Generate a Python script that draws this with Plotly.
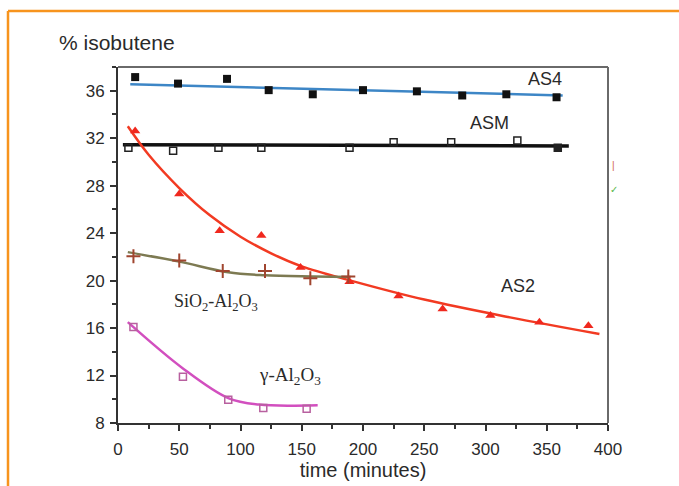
import plotly.graph_objects as go

# ---- data ----
as4_t = [14, 49, 89, 123, 159, 200, 244, 281, 317, 358]
as4_y = [37.15, 36.6, 37.0, 36.05, 35.7, 36.05, 35.95, 35.6, 35.7, 35.45]
as4_fit_t = [10, 363]
as4_fit_y = [36.55, 35.6]

asm_t = [8.5, 45, 82, 117, 189, 225, 272, 326, 359]
asm_y = [31.2, 30.95, 31.2, 31.2, 31.2, 31.65, 31.65, 31.8, 31.2]
asm_fit_t = [4, 368]
asm_fit_y = [31.45, 31.35]

as2_t = [14, 50, 83, 117, 149, 189, 229, 265, 304, 344, 384]
as2_y = [32.6, 27.3, 24.2, 23.8, 21.1, 19.9, 18.7, 17.6, 17.05, 16.5, 16.2]
as2_fit_t = [8, 25, 50, 75, 100, 125, 150, 190, 250, 320, 393]
as2_fit_y = [33.0, 30.6, 27.8, 25.5, 23.7, 22.3, 21.2, 20.0, 18.4, 16.9, 15.5]

sio2_t = [12.6, 50, 85.5, 120, 157, 188]
sio2_y = [22.05, 21.7, 20.8, 20.8, 20.2, 20.35]
sio2_fit_t = [8, 50, 90, 120, 160, 190]
sio2_fit_y = [22.4, 21.6, 20.7, 20.45, 20.35, 20.3]

gam_t = [12.6, 53, 90, 118.6, 154]
gam_y = [16.1, 11.9, 9.95, 9.27, 9.2]
gam_fit_t = [8, 53, 90, 115, 163]
gam_fit_y = [16.5, 12.6, 10.1, 9.55, 9.5]

x_ticks = [0, 50, 100, 150, 200, 250, 300, 350, 400]
y_ticks = [8, 12, 16, 20, 24, 28, 32, 36]

FONT = "Liberation Sans, Arial, sans-serif"
SERIF = "Liberation Serif, Times New Roman, serif"
TXT = "#2a2a2a"
AXC = "#333333"

fig = go.Figure()

# fitted curves
fig.add_trace(go.Scatter(x=as4_fit_t, y=as4_fit_y, mode="lines",
                         line=dict(color="#3d86c6", width=2.5), hoverinfo="skip"))
fig.add_trace(go.Scatter(x=asm_fit_t, y=asm_fit_y, mode="lines",
                         line=dict(color="#111111", width=3.5), hoverinfo="skip"))
fig.add_trace(go.Scatter(x=as2_fit_t, y=as2_fit_y, mode="lines",
                         line=dict(color="#f23a22", width=2.5, shape="spline", smoothing=1.0),
                         hoverinfo="skip"))
fig.add_trace(go.Scatter(x=sio2_fit_t, y=sio2_fit_y, mode="lines",
                         line=dict(color="#7d7a52", width=2.5, shape="spline", smoothing=1.0),
                         hoverinfo="skip"))
fig.add_trace(go.Scatter(x=gam_fit_t, y=gam_fit_y, mode="lines",
                         line=dict(color="#d24fbf", width=2.5, shape="spline", smoothing=1.0),
                         hoverinfo="skip"))

# markers
fig.add_trace(go.Scatter(x=as4_t, y=as4_y, mode="markers",
                         marker=dict(symbol="square", size=8, color="#111111")))
asm_sym = ["square-open"] * (len(asm_t) - 1) + ["square"]
fig.add_trace(go.Scatter(x=asm_t, y=asm_y, mode="markers",
                         marker=dict(symbol=asm_sym, size=7, color="#222222",
                                     line=dict(width=1.5, color="#222222"))))
fig.add_trace(go.Scatter(x=as2_t, y=as2_y, mode="markers",
                         marker=dict(symbol="triangle-up", size=9, color="#f0281e")))
fig.add_trace(go.Scatter(x=sio2_t, y=sio2_y, mode="markers",
                         marker=dict(symbol="cross-thin", size=10, color="#a0452f",
                                     line=dict(width=2, color="#a0452f"))))
fig.add_trace(go.Scatter(x=gam_t, y=gam_y, mode="markers",
                         marker=dict(symbol="square-open", size=7, color="#b8609f",
                                     line=dict(width=1.5, color="#b8609f"))))

axis_common = dict(showline=True, linecolor=AXC, linewidth=2, mirror=False,
                   ticks="outside", ticklen=6, tickwidth=2, tickcolor=AXC,
                   showgrid=False, zeroline=False,
                   tickfont=dict(family=FONT, size=17, color=TXT))

fig.update_xaxes(range=[0, 400], tickmode="array", tickvals=x_ticks,
                 ticktext=[str(v) for v in x_ticks], ticklabelstandoff=4,
                 minor=dict(ticks="outside", ticklen=4, tickwidth=2, dtick=25,
                            tick0=0, tickcolor=AXC, showgrid=False),
                 title=dict(text="time (minutes)", font=dict(family=FONT, size=20, color=TXT),
                            standoff=2),
                 **axis_common)
fig.update_yaxes(range=[8, 38.0], tickmode="array", tickvals=y_ticks,
                 ticktext=[str(v) for v in y_ticks], ticklabelstandoff=2,
                 minor=dict(ticks="outside", ticklen=4, tickwidth=2, dtick=2,
                            tick0=0, tickcolor=AXC, showgrid=False),
                 **axis_common)

ann = [
    dict(text="% isobutene", x=117, y=42, font=dict(family=FONT, size=21, color=TXT)),
    dict(text="AS4", x=545, y=79, font=dict(family=FONT, size=18, color=TXT)),
    dict(text="ASM", x=489, y=123, font=dict(family=FONT, size=18, color=TXT)),
    dict(text="AS2", x=518, y=286, font=dict(family=FONT, size=18, color=TXT)),
    dict(text="SiO<sub>2</sub>-Al<sub>2</sub>O<sub>3</sub>", x=216, y=302,
         font=dict(family=SERIF, size=18, color=TXT)),
    dict(text="\u03b3-Al<sub>2</sub>O<sub>3</sub>", x=290, y=376,
         font=dict(family=SERIF, size=19, color=TXT)),
    dict(text="\u2713", x=614, y=189, font=dict(family=FONT, size=10, color="#59b84a")),
    dict(text="|", x=613, y=165, font=dict(family=FONT, size=10, color="#d06040")),
]

L, R, T, B = 118, 608, 67, 423
W, H = 679, 486


def px_to_paper(x, y):
    return (x - L) / (R - L), (B - y) / (B - T)


annotations = []
for a in ann:
    px, py = px_to_paper(a["x"], a["y"])
    annotations.append(dict(text=a["text"], x=px, y=py, xref="paper", yref="paper",
                            showarrow=False, xanchor="center", yanchor="middle",
                            font=a["font"]))

# orange frame (left and top edges)
ox0, oy0 = px_to_paper(8, 11)
ox1, oy1 = px_to_paper(W + 5, H + 5)
shapes = [
    # light top/right frame of the plot area
    dict(type="line", xref="paper", yref="paper", x0=0, y0=1, x1=1, y1=1,
         line=dict(color="#6a6a6a", width=2)),
    dict(type="line", xref="paper", yref="paper", x0=1, y0=0, x1=1, y1=1,
         line=dict(color="#6a6a6a", width=2)),
    dict(type="line", xref="paper", yref="paper", x0=ox0, y0=oy0, x1=ox1, y1=oy0,
         line=dict(color="#f7941d", width=2.5)),
    dict(type="line", xref="paper", yref="paper", x0=ox0, y0=oy0, x1=ox0, y1=oy1,
         line=dict(color="#f7941d", width=2.5)),
]

fig.update_layout(width=W, height=H, showlegend=False,
                  margin=dict(l=L, r=W - R, t=T, b=H - B, pad=0),
                  plot_bgcolor="white", paper_bgcolor="white",
                  annotations=annotations, shapes=shapes)

fig.write_html("out.html")
